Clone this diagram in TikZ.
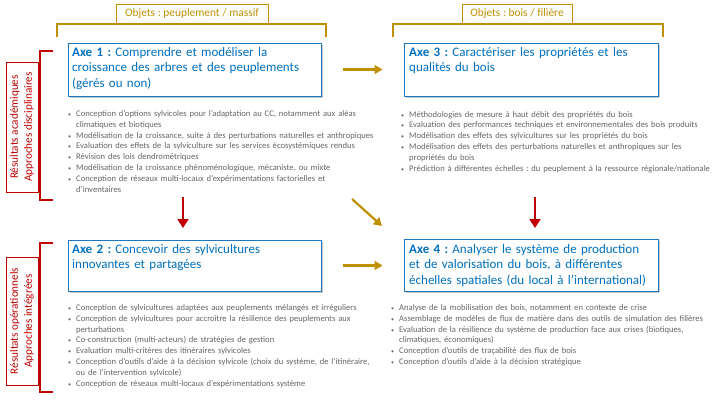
\documentclass[tikz,border=0pt]{standalone}
\usepackage{fontspec}
\setmainfont{Carlito}
\usetikzlibrary{arrows.meta,shadows}
\frenchspacing
\definecolor{axeblue}{HTML}{0070C0}
\definecolor{boxblue}{HTML}{1F77C4}
\definecolor{gold}{HTML}{BF9000}
\definecolor{dred}{HTML}{C00000}
\definecolor{bulgray}{HTML}{666666}
\newcommand{\bu}{\makebox[8pt][l]{{\fontsize{6}{6}\selectfont\textbullet}}}
\newcommand{\cn}{\hspace*{8pt}}
\tikzset{
  objlabel/.style={draw=gold, line width=1pt, fill=white, text=gold, font=\fontsize{11.4}{13}\selectfont, inner sep=0pt, minimum height=19pt},
  objbracket/.style={draw=gold, line width=1.6pt},
  axebox/.style={draw=boxblue, line width=1pt, fill=white, inner sep=0pt,
     drop shadow={shadow xshift=1.5pt, shadow yshift=-1.8pt, opacity=0.35, fill=black!60}},
  axetitle/.style={text=axeblue, font=\fontsize{13}{15.5}\selectfont, align=left, inner sep=0pt, anchor=base west, text width=250pt},
  bullets/.style={text=bulgray, font=\fontsize{8.6}{10.8}\selectfont, align=left, inner sep=0pt, anchor=base west, text width=330pt},
  reslabel/.style={draw=dred, line width=0.8pt, fill=white, text=dred, font=\fontsize{11.2}{14}\selectfont, align=center, rotate=90, inner sep=0pt},
  redbracket/.style={draw=dred, line width=1.6pt},
  goldarrow/.style={draw=gold, line width=2.2pt, -{Triangle[width=9pt,length=8pt]}},
  redarrow/.style={draw=dred, line width=2.2pt, -{Triangle[width=11pt,length=9pt]}}
}
\begin{document}
\begin{tikzpicture}[x=1pt,y=-1pt]
\useasboundingbox (0,0) rectangle (720,405);
\fill[white] (0,0) rectangle (720,405);

% top brackets
\draw[objbracket] (57,37) -- (57,24) -- (326,24) -- (326,37);
\node[objlabel, minimum width=152pt] (o1) at (192,14) {Objets : peuplement / massif};
\draw[objbracket] (393,37) -- (393,24) -- (663,24) -- (663,37);
\node[objlabel, minimum width=110pt] (o2) at (517,14) {Objets : bois / filière};

% left brackets
\draw[redbracket] (53,51) -- (40,51) -- (40,200) -- (53,200);
\node[reslabel, minimum width=130pt, minimum height=32pt] (l1) at (22,127) {Résultats académiques\\Approches disciplinaires};
\draw[redbracket] (53,243) -- (40,243) -- (40,392) -- (53,392);
\node[reslabel, minimum width=128pt, minimum height=32pt] (l2) at (22,321) {Résultats opérationnels\\Approches intégrées};

% axe boxes
\node[axebox, minimum width=253pt, minimum height=53pt] (a1) at (194.5,69.5) {};
\node[axetitle] (t1) at (72,56) {\textbf{Axe 1 :} Comprendre et modéliser la\\croissance des arbres et des peuplements\\(gérés ou non)};
\node[axebox, minimum width=254pt, minimum height=53pt] (a3) at (531,69.5) {};
\node[axetitle] (t3) at (409,56) {\textbf{Axe 3 :} Caractériser les propriétés et les\\qualités du bois};
\node[axebox, minimum width=253pt, minimum height=51pt] (a2) at (194.5,265.5) {};
\node[axetitle] (t2) at (72,253) {\textbf{Axe 2 :} Concevoir des sylvicultures\\innovantes et partagées};
\node[axebox, minimum width=254pt, minimum height=52pt] (a4) at (531,265.5) {};
\node[axetitle] (t4) at (409,253) {\textbf{Axe 4 :} Analyser le système de production\\et de valorisation du bois, à différentes\\échelles spatiales (du local à l’international)};

% bullets
\node[bullets] (b1) at (68,116.5) {\bu Conception d’options sylvicoles pour l’adaptation au CC, notamment aux aléas\\
\cn climatiques et biotiques\\
\bu Modélisation de la croissance, suite à des perturbations naturelles et anthropiques\\
\bu Evaluation des effets de la sylviculture sur les services écosystémiques rendus\\
\bu Révision des lois dendrométriques\\
\bu Modélisation de la croissance phénoménologique, mécaniste, ou mixte\\
\bu Conception de réseaux multi-locaux d’expérimentations factorielles et\\
\cn d’inventaires};
\node[bullets] (b3) at (401,117) {\bu Méthodologies de mesure à haut débit des propriétés du bois\\
\bu Evaluation des performances techniques et environnementales des bois produits\\
\bu Modélisation des effets des sylvicultures sur les propriétés du bois\\
\bu Modélisation des effets des perturbations naturelles et anthropiques sur les\\
\cn propriétés du bois\\
\bu Prédiction à différentes échelles : du peuplement à la ressource régionale/nationale};
\node[bullets] (b2) at (68,310.5) {\bu Conception de sylvicultures adaptées aux peuplements mélangés et irréguliers\\
\bu Conception de sylvicultures pour accroître la résilience des peuplements aux\\
\cn perturbations\\
\bu Co-construction (multi-acteurs) de stratégies de gestion\\
\bu Evaluation multi-critères des itinéraires sylvicoles\\
\bu Conception d’outils d’aide à la décision sylvicole (choix du système, de l’itinéraire,\\
\cn ou de l’intervention sylvicole)\\
\bu Conception de réseaux multi-locaux d’expérimentations système};
\node[bullets] (b4) at (391,310.5) {\bu Analyse de la mobilisation des bois, notamment en contexte de crise\\
\bu Assemblage de modèles de flux de matière dans des outils de simulation des filières\\
\bu Evaluation de la résilience du système de production face aux crises (biotiques,\\
\cn climatiques, économiques)\\
\bu Conception d’outils de traçabilité des flux de bois\\
\bu Conception d’outils d’aide à la décision stratégique};

% arrows
\draw[goldarrow, shorten <=21pt, shorten >=21pt] (a1.east) -- (a3.west);
\draw[goldarrow, shorten <=21pt, shorten >=21pt] (a2.east) -- (a4.west);
\coordinate (ds) at (352,199);
\coordinate (de) at (382,226);
\draw[goldarrow] (ds) -- (de);
\coordinate (r1s) at (183,197);
\coordinate (r1e) at (183,228);
\draw[redarrow] (r1s) -- (r1e);
\coordinate (r3s) at (535,197);
\coordinate (r3e) at (535,228);
\draw[redarrow] (r3s) -- (r3e);
\end{tikzpicture}
\end{document}
